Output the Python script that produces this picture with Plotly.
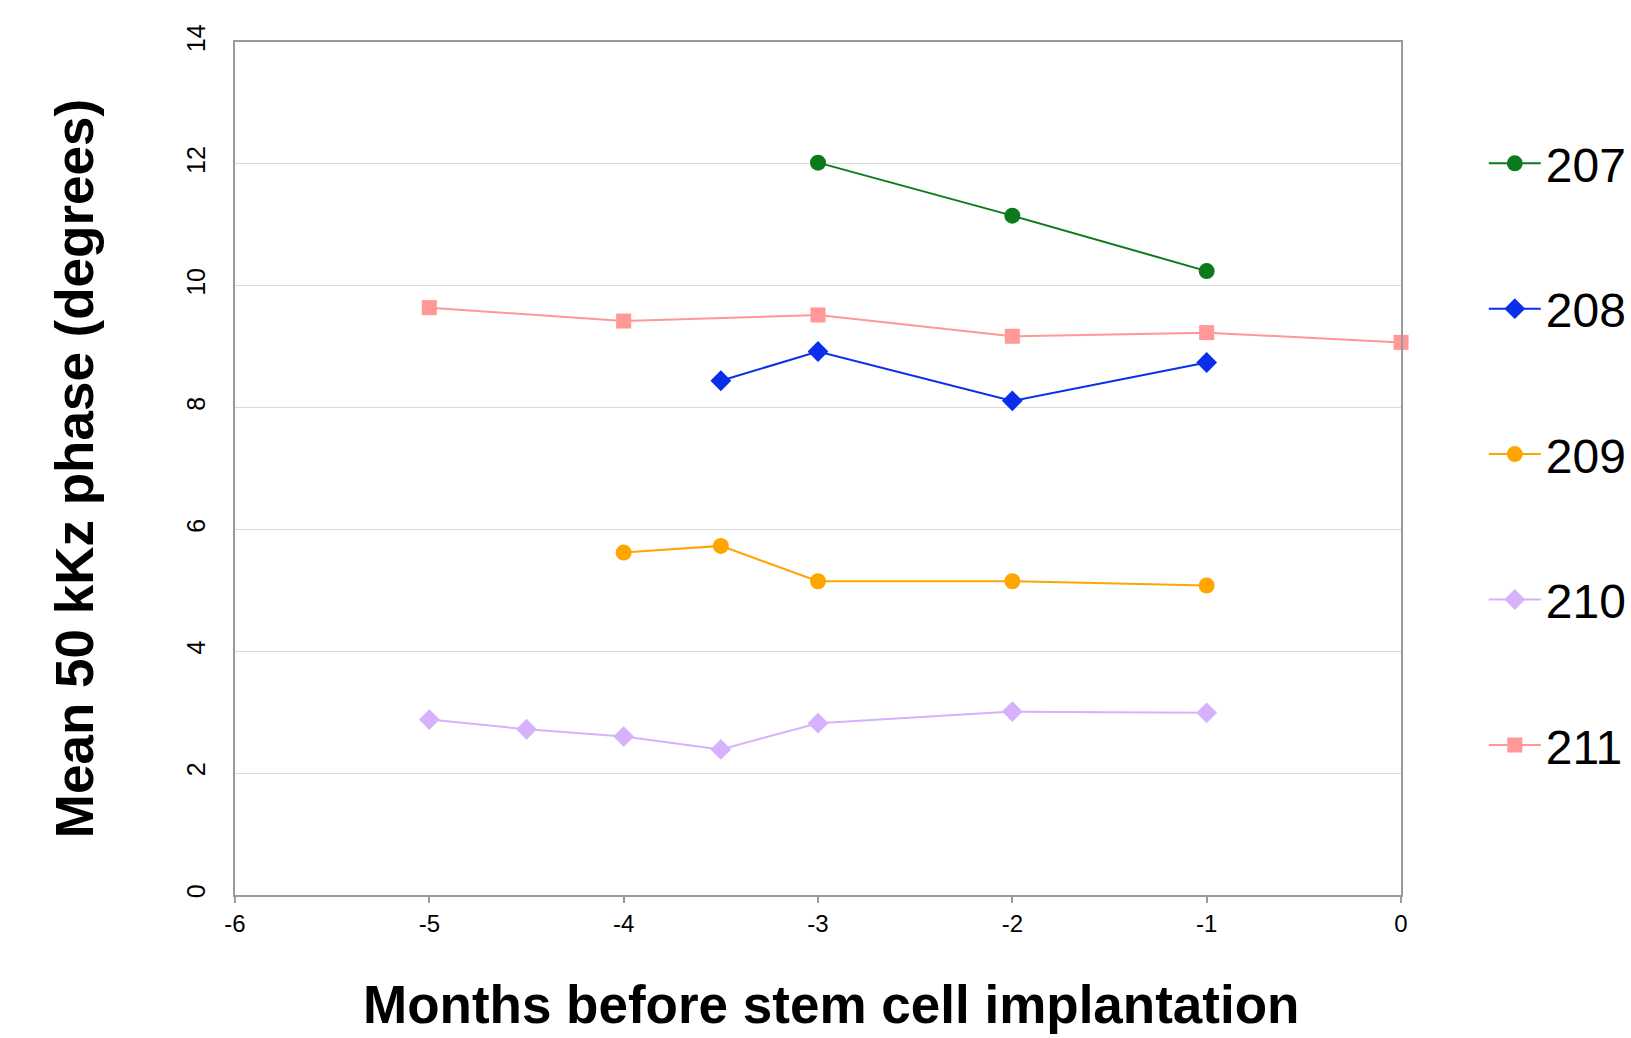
import plotly.graph_objects as go

# Months before implantation for each subject, and the mean phase at 50 kHz
x_207 = [-3, -2, -1]
y_207 = [12.02, 11.15, 10.24]

x_208 = [-3.5, -3, -2, -1]
y_208 = [8.44, 8.92, 8.11, 8.74]

x_209 = [-4, -3.5, -3, -2, -1]
y_209 = [5.62, 5.73, 5.15, 5.15, 5.08]

x_210 = [-5, -4.5, -4, -3.5, -3, -2, -1]
y_210 = [2.88, 2.72, 2.60, 2.39, 2.82, 3.01, 2.99]

x_211 = [-5, -4, -3, -2, -1, 0]
y_211 = [9.64, 9.42, 9.52, 9.17, 9.23, 9.07]

x_ticks = [-6, -5, -4, -3, -2, -1, 0]
y_ticks = [0, 2, 4, 6, 8, 10, 12, 14]

FONT = "Arial, Liberation Sans, sans-serif"

series = [
    ("207", x_207, y_207, "#0B7A1C", "circle", 16),
    ("208", x_208, y_208, "#0A2EEB", "diamond", 16),
    ("209", x_209, y_209, "#FFA500", "circle", 16),
    ("210", x_210, y_210, "#D7B2FC", "diamond", 16),
    ("211", x_211, y_211, "#FF9896", "square", 15),
]

fig = go.Figure()
for name, xs, ys, color, symbol, size in series:
    fig.add_trace(go.Scatter(
        x=xs, y=ys, name=name, mode="lines+markers",
        legendgroup=name,
        line=dict(color=color, width=2),
        marker=dict(symbol=symbol, size=size, color=color, line=dict(width=0)),
        cliponaxis=False,
    ))

# x-axis title, set slightly right of the plot centre
fig.add_annotation(
    text="<b>Months before stem cell implantation</b>",
    xref="paper", yref="paper", x=0.511, y=0,
    xanchor="center", yanchor="middle", yshift=-109,
    showarrow=False, font=dict(size=53, family=FONT, color="black"),
)

fig.update_layout(
    width=1631, height=1038,
    margin=dict(l=235, r=230, t=42, b=143, autoexpand=False),
    paper_bgcolor="white", plot_bgcolor="white",
    font=dict(family=FONT, color="black"),
    showlegend=True,
    legend=dict(
        x=1.071, xanchor="left", y=0.902, yanchor="top",
        font=dict(size=48, family=FONT),
        tracegroupgap=80,
        itemwidth=52,
        bgcolor="rgba(0,0,0,0)",
    ),
    xaxis=dict(
        range=[-6, 0], tickvals=x_ticks, ticktext=[str(v) for v in x_ticks],
        showgrid=False, zeroline=False, automargin=False,
        showline=True, linecolor="#9a9a9a", linewidth=2, mirror=True,
        ticks="outside", ticklen=6, tickwidth=2, tickcolor="#9a9a9a",
        tickfont=dict(size=24, family=FONT),
    ),
    yaxis=dict(
        range=[0, 14], tickvals=y_ticks, ticktext=[str(v) for v in y_ticks],
        showgrid=True, gridcolor="#d9d9d9", gridwidth=1,
        zeroline=False, automargin=False,
        showline=True, linecolor="#9a9a9a", linewidth=2, mirror=True,
        ticks="", tickangle=-90,
        tickfont=dict(size=25, family=FONT),
        ticklabelstandoff=18,
        title=dict(text="<b>Mean 50 kKz phase (degrees)</b>",
                   font=dict(size=53, family=FONT), standoff=71),
    ),
)

fig.write_html("out.html")
